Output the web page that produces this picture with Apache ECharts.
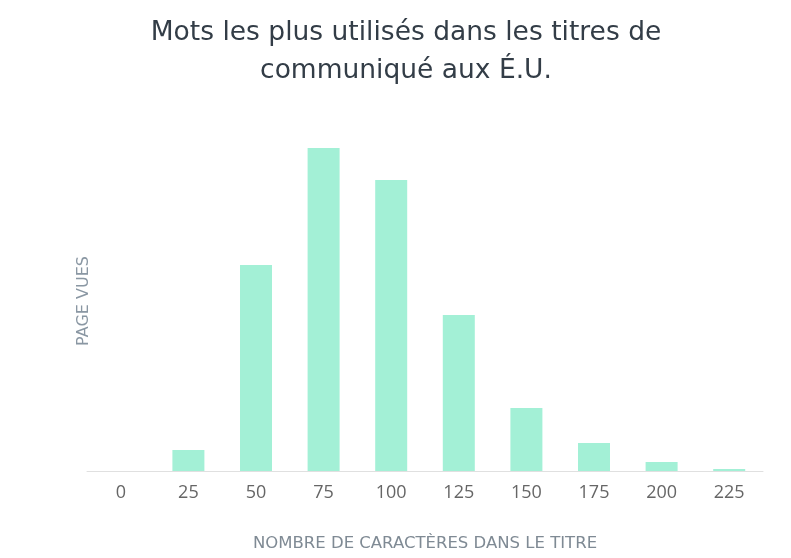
<!DOCTYPE html>
<html><head><meta charset="utf-8">
<script src="https://cdn.jsdelivr.net/npm/echarts@6/dist/echarts.min.js"></script>
<style>html,body{margin:0;padding:0;background:#fff}#c{width:791px;height:558px}</style>
</head><body><div id="c"></div>
<script>
var categories = ['0','25','50','75','100','125','150','175','200','225'];
var pageViews = [0, 21, 206, 323, 291, 156, 63, 28, 9, 2];
var titleText = 'Mots les plus utilisés dans les titres de\ncommuniqué aux É.U.';
var xName = 'NOMBRE DE CARACTÈRES DANS LE TITRE';
var yName = 'PAGE VUES';

var chart = echarts.init(document.getElementById('c'));
chart.setOption({
  animation: false,
  title: {
    text: titleText, left: 401, textAlign: 'center', top: 9,
    textStyle: {fontFamily: 'DejaVu Sans', fontSize: 26.5, fontWeight: 'normal', color: '#333d47', lineHeight: 38}
  },
  grid: {left: 87, right: 28, top: 141, bottom: 87},
  xAxis: {
    type: 'category', data: categories,
    axisLine: {lineStyle: {color: '#e0e0e0', width: 1}},
    axisTick: {show: false},
    axisLabel: {color: '#666', fontSize: 18, fontFamily: 'Open Sans', margin: 13},
    name: xName, nameLocation: 'middle', nameGap: 64,
    nameTextStyle: {color: '#7f8a94', fontSize: 16.5, fontFamily: 'DejaVu Sans'}
  },
  yAxis: {
    type: 'value', min: 0, max: 330, show: true,
    axisLine: {show: false}, axisTick: {show: false}, axisLabel: {show: false}, splitLine: {show: false},
    name: yName, nameLocation: 'middle', nameGap: -5, nameRotate: 90,
    nameTextStyle: {color: '#8a97a3', fontSize: 16, fontFamily: 'DejaVu Sans', padding: [0, 0, 0, 10]}
  },
  series: [{
    type: 'bar', data: pageViews, barWidth: 32,
    itemStyle: {color: '#a3f0d6'}
  }]
});
</script></body></html>
